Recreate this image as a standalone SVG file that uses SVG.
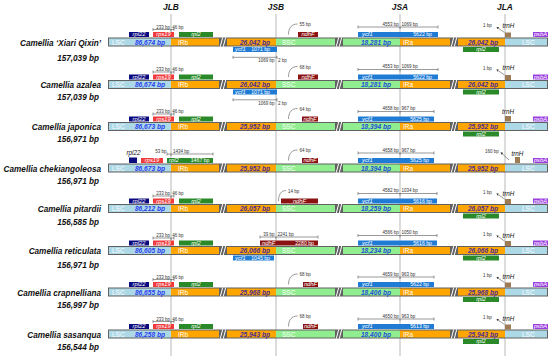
<svg xmlns="http://www.w3.org/2000/svg" xmlns:xlink="http://www.w3.org/1999/xlink" width="550" height="358" viewBox="0 0 550 358">
<style>
text{font-family:"Liberation Sans",Arial,sans-serif}
.hdr{font-weight:bold;font-style:italic;font-size:8.4px;text-anchor:middle;fill:#111}
.nm{font-weight:bold;font-style:italic;font-size:8.2px;text-anchor:end;fill:#111}
.lsc{fill:#add8e6}.ir{fill:#ffa500}.ssc{fill:#90ee90}
.seg{font-size:6.5px;fill:#fff}
.len{font-weight:bold;font-style:italic;font-size:6.6px;text-anchor:end}
.lv{fill:#2a3cf0}.iv{fill:#4b2d96}.sv{fill:#1f4fd8}
.g{font-style:italic;font-size:5.8px;fill:#fff;text-anchor:middle}
.gs{font-style:italic;font-size:5.8px;fill:#fff}
.gn{font-size:5.2px;fill:#fff}
.gk{font-style:italic;font-size:6.3px;fill:#111}
.bp{font-size:4.5px;fill:#333}
.bk{stroke:#555;stroke-width:0.6;fill:none}
.vl{stroke:#b8b8b8;stroke-width:1}
.rpl22{fill:#0b0b80}.rps19{fill:#f03a3c}.rpl2{fill:#2a8a2a}.ycf1{fill:#1f7bd4}.ndhF{fill:#8b1212}.trnH{fill:#9c7b55}.psbA{fill:#9a3ee0}
</style>
<defs>
<marker id="ah" viewBox="0 0 6 6" refX="1" refY="3" markerWidth="4" markerHeight="4" orient="auto-start-reverse"><path d="M0,0 L6,3 L0,6 z" fill="#333"/></marker>
<g id="brk" fill="#fff"><polygon points="0.8,9 3.2,0 4.2,0 1.8,9"/><polygon points="3.8,9 6.2,0 7.2,0 4.8,9"/></g>
<g id="base">
<rect x="108" y="0" width="440" height="9" fill="#616161"/>
<rect class="lsc" x="109" y="1" width="62" height="7"/>
<rect class="ir" x="171" y="1" width="48" height="7"/>
<rect class="ir" x="227" y="1" width="49" height="7"/>
<rect class="ssc" x="276" y="1" width="59" height="7"/>
<rect class="ssc" x="343" y="1" width="57" height="7"/>
<rect class="ir" x="400" y="1" width="50" height="7"/>
<rect class="ir" x="458" y="1" width="47" height="7"/>
<rect class="lsc" x="505" y="1" width="42" height="7"/>
<use href="#brk" x="219"/>
<use href="#brk" x="335"/>
<use href="#brk" x="450"/>
</g>
</defs>
<rect width="550" height="358" fill="#fff"/>

<g id="junctions">
<line class="vl" x1="171" y1="14" x2="171" y2="356"/>
<line class="vl" x1="276" y1="14" x2="276" y2="356"/>
<line class="vl" x1="400" y1="14" x2="400" y2="356"/>
<line class="vl" x1="505" y1="14" x2="505" y2="356"/>
</g>
<g id="headers">
<text class="hdr" x="171" y="9.5">JLB</text>
<text class="hdr" x="276" y="9.5">JSB</text>
<text class="hdr" x="400" y="9.5">JSA</text>
<text class="hdr" x="505" y="9.5">JLA</text>
</g>

<!-- Row 1 -->
<g id="row1" transform="translate(0,37.5)">
<text class="nm" x="101" y="8">Camellia ‘Xiari Qixin’</text>
<text class="nm" x="99" y="23.5">157,039 bp</text>
<use href="#base"/>
<text class="seg" x="112" y="7">LSC</text><text class="len lv" x="165" y="7">86,674 bp</text>
<text class="seg" x="178" y="7">IRb</text><text class="len iv" x="270" y="7">26,042 bp</text>
<text class="seg" x="282" y="7">SSC</text><text class="len sv" x="391" y="7">18,281 bp</text>
<text class="seg" x="403" y="7">IRa</text><text class="len iv" x="498" y="7">26,042 bp</text>
<text class="seg" x="522" y="7">LSC</text>
<rect class="rpl22" x="129" y="-5.5" width="20" height="5"/><text class="g" x="139" y="-1.3">rpl22</text>
<rect class="rps19" x="153" y="-5.5" width="21" height="5"/><text class="g" x="163.5" y="-1.3">rps19</text>
<rect class="rpl2" x="179" y="-5.5" width="34" height="5"/><text class="g" x="196" y="-1.3">rpl2</text>
<path class="bk" d="M153 -8H174M153 -9.5V-6.5M174 -9.5V-6.5M171 -8V-6"/>
<text class="bp" x="170" y="-8.8" text-anchor="end">233 bp</text><text class="bp" x="172.3" y="-8.8">46 bp</text>
<rect class="ycf1" x="233" y="9.5" width="44" height="5"/><text class="gs" x="235" y="13.6">ycf1</text><text class="gn" x="270" y="13.6" text-anchor="end">1071 bp</text>
<path class="bk" d="M233 19.8H277M233 18.3V21.3M277 18.3V21.3"/>
<text class="bp" x="274.5" y="24.5" text-anchor="end">1069 bp</text><text class="bp" x="278" y="24.5">2 bp</text>
<rect class="ndhF" x="298" y="-5.5" width="20" height="5"/><text class="g" x="308" y="-1.3">ndhF</text>
<path class="bk" d="M288.5 -3C288.5 -10 292 -13.5 297.5 -13.5"/><text class="bp" x="299.5" y="-11.5">55 bp</text>
<rect class="ycf1" x="358" y="-5.5" width="80" height="5"/><text class="gs" x="362" y="-1.3">ycf1</text><text class="gn" x="432" y="-1.3" text-anchor="end">5622 bp</text>
<path class="bk" d="M358 -10.5H438M358 -12V-9M438 -12V-9M400 -10.5V-8.5"/>
<text class="bp" x="398.8" y="-11.8" text-anchor="end">4553 bp</text><text class="bp" x="401.5" y="-11.8">1069 bp</text>
<rect class="rpl2" x="463" y="9.5" width="36" height="5"/><text class="g" x="481" y="13.6">rpl2</text>
<text class="bp" x="483" y="-10.5">1 bp</text>
<line class="bk" x1="498" y1="-9.5" x2="504.5" y2="-5" marker-start="url(#ah)"/>
<text class="gk" x="502.5" y="-10">trnH</text>
<rect class="trnH" x="505" y="-5" width="6" height="5"/>
<rect class="psbA" x="533" y="-5.5" width="15" height="5"/><text class="g" x="540.5" y="-1.3">psbA</text>
</g>

<!-- Row 2 -->
<g id="row2" transform="translate(0,80)">
<text class="nm" x="101" y="8">Camellia azalea</text>
<text class="nm" x="99" y="20">157,039 bp</text>
<use href="#base"/>
<text class="seg" x="112" y="7">LSC</text><text class="len lv" x="165" y="7">86,674 bp</text>
<text class="seg" x="178" y="7">IRb</text><text class="len iv" x="270" y="7">26,042 bp</text>
<text class="seg" x="282" y="7">SSC</text><text class="len sv" x="391" y="7">18,281 bp</text>
<text class="seg" x="403" y="7">IRa</text><text class="len iv" x="498" y="7">26,042 bp</text>
<text class="seg" x="522" y="7">LSC</text>
<rect class="rpl22" x="129" y="-5.5" width="20" height="5"/><text class="g" x="139" y="-1.3">rpl22</text>
<rect class="rps19" x="153" y="-5.5" width="21" height="5"/><text class="g" x="163.5" y="-1.3">rps19</text>
<rect class="rpl2" x="179" y="-5.5" width="34" height="5"/><text class="g" x="196" y="-1.3">rpl2</text>
<path class="bk" d="M153 -8H174M153 -9.5V-6.5M174 -9.5V-6.5M171 -8V-6"/>
<text class="bp" x="170" y="-8.8" text-anchor="end">233 bp</text><text class="bp" x="172.3" y="-8.8">46 bp</text>
<rect class="ycf1" x="233" y="9.5" width="44" height="5"/><text class="gs" x="235" y="13.6">ycf1</text><text class="gn" x="270" y="13.6" text-anchor="end">1071 bp</text>
<path class="bk" d="M233 19.8H277M233 18.3V21.3M277 18.3V21.3"/>
<text class="bp" x="274.5" y="24.5" text-anchor="end">1069 bp</text><text class="bp" x="278" y="24.5">2 bp</text>
<rect class="ndhF" x="298" y="-5.5" width="20" height="5"/><text class="g" x="308" y="-1.3">ndhF</text>
<path class="bk" d="M288.5 -3C288.5 -10 292 -13.5 297.5 -13.5"/><text class="bp" x="299.5" y="-11.5">68 bp</text>
<rect class="ycf1" x="358" y="-5.5" width="80" height="5"/><text class="gs" x="362" y="-1.3">ycf1</text><text class="gn" x="432" y="-1.3" text-anchor="end">5622 bp</text>
<path class="bk" d="M358 -10.5H438M358 -12V-9M438 -12V-9M400 -10.5V-8.5"/>
<text class="bp" x="398.8" y="-11.8" text-anchor="end">4553 bp</text><text class="bp" x="401.5" y="-11.8">1069 bp</text>
<rect class="rpl2" x="463" y="9.5" width="36" height="5"/><text class="g" x="481" y="13.6">rpl2</text>
<text class="bp" x="483" y="-10.5">1 bp</text>
<line class="bk" x1="498" y1="-9.5" x2="504.5" y2="-5" marker-start="url(#ah)"/>
<text class="gk" x="502.5" y="-10">trnH</text>
<rect class="trnH" x="505" y="-5" width="6" height="5"/>
<rect class="psbA" x="533" y="-5.5" width="15" height="5"/><text class="g" x="540.5" y="-1.3">psbA</text>
</g>

<!-- Row 3 -->
<g id="row3" transform="translate(0,122)">
<text class="nm" x="101" y="8">Camellia japonica</text>
<text class="nm" x="99" y="20">156,971 bp</text>
<use href="#base"/>
<text class="seg" x="112" y="7">LSC</text><text class="len lv" x="165" y="7">86,673 bp</text>
<text class="seg" x="178" y="7">IRb</text><text class="len iv" x="270" y="7">25,952 bp</text>
<text class="seg" x="282" y="7">SSC</text><text class="len sv" x="391" y="7">18,394 bp</text>
<text class="seg" x="403" y="7">IRa</text><text class="len iv" x="498" y="7">25,952 bp</text>
<text class="seg" x="522" y="7">LSC</text>
<rect class="rpl22" x="129" y="-5.5" width="20" height="5"/><text class="g" x="139" y="-1.3">rpl22</text>
<rect class="rps19" x="153" y="-5.5" width="21" height="5"/><text class="g" x="163.5" y="-1.3">rps19</text>
<rect class="rpl2" x="179" y="-5.5" width="34" height="5"/><text class="g" x="196" y="-1.3">rpl2</text>
<path class="bk" d="M153 -8H174M153 -9.5V-6.5M174 -9.5V-6.5M171 -8V-6"/>
<text class="bp" x="170" y="-8.8" text-anchor="end">233 bp</text><text class="bp" x="172.3" y="-8.8">46 bp</text>
<rect class="ndhF" x="302" y="-5.5" width="16" height="5"/><text class="g" x="310" y="-1.3">ndhF</text>
<path class="bk" d="M288.5 -3C288.5 -10 292 -13.5 297.5 -13.5"/><text class="bp" x="299.5" y="-11.5">64 bp</text>
<rect class="ycf1" x="358" y="-5.5" width="76" height="5"/><text class="gs" x="362" y="-1.3">ycf1</text><text class="gn" x="429" y="-1.3" text-anchor="end">5625 bp</text>
<path class="bk" d="M358 -10.5H434M358 -12V-9M434 -12V-9M400 -10.5V-8.5"/>
<text class="bp" x="398.8" y="-11.8" text-anchor="end">4658 bp</text><text class="bp" x="401.5" y="-11.8">967 bp</text>
<rect class="rpl2" x="463" y="9.5" width="36" height="5"/><text class="g" x="481" y="13.6">rpl2</text>
<text class="gk" x="508" y="-8" text-anchor="middle">trnH</text>
<rect class="trnH" x="505" y="-6" width="6" height="5.5"/>
<rect class="psbA" x="533" y="-5.5" width="15" height="5"/><text class="g" x="540.5" y="-1.3">psbA</text>
</g>

<!-- Row 4 -->
<g id="row4" transform="translate(0,163.5)">
<text class="nm" x="101" y="8">Camellia chekiangoleosa</text>
<text class="nm" x="99" y="20">156,971 bp</text>
<use href="#base"/>
<text class="seg" x="112" y="7">LSC</text><text class="len lv" x="165" y="7">86,673 bp</text>
<text class="seg" x="178" y="7">IRb</text><text class="len iv" x="270" y="7">25,952 bp</text>
<text class="seg" x="282" y="7">SSC</text><text class="len sv" x="391" y="7">18,394 bp</text>
<text class="seg" x="403" y="7">IRa</text><text class="len iv" x="498" y="7">25,952 bp</text>
<text class="seg" x="522" y="7">LSC</text>
<text class="gk" x="133.5" y="-8.3" text-anchor="middle">rpl22</text>
<rect class="rpl22" x="129" y="-6" width="8" height="5.5"/>
<rect class="rps19" x="141" y="-5.5" width="22" height="5"/><text class="g" x="152" y="-1.3">rps19</text>
<rect class="rpl2" x="167" y="-5.5" width="46" height="5"/><text class="gs" x="169" y="-1.3">rpl2</text><text class="gn" x="209.5" y="-1.3" text-anchor="end">1467 bp</text>
<path class="bk" d="M167 -9.5H213M167 -11V-8M213 -11V-8M171 -9.5V-7.5"/>
<text class="bp" x="166.5" y="-10.3" text-anchor="end">53 bp</text><text class="bp" x="173" y="-10.3">1434 bp</text>
<rect class="ndhF" x="302" y="-5.5" width="16" height="5"/><text class="g" x="310" y="-1.3">ndhF</text>
<path class="bk" d="M288.5 -3C288.5 -10 292 -13.5 297.5 -13.5"/><text class="bp" x="299.5" y="-11.5">64 bp</text>
<rect class="ycf1" x="358" y="-5.5" width="76" height="5"/><text class="gs" x="362" y="-1.3">ycf1</text><text class="gn" x="429" y="-1.3" text-anchor="end">5625 bp</text>
<path class="bk" d="M358 -10.5H434M358 -12V-9M434 -12V-9M400 -10.5V-8.5"/>
<text class="bp" x="398.8" y="-11.8" text-anchor="end">4658 bp</text><text class="bp" x="401.5" y="-11.8">967 bp</text>
<text class="bp" x="485" y="-11">160 bp</text>
<line class="bk" x1="502" y1="-10" x2="509" y2="-3.5" marker-start="url(#ah)"/>
<text class="gk" x="511.5" y="-7.8">trnH</text>
<rect class="trnH" x="515" y="-6.5" width="5" height="6"/>
<rect class="psbA" x="533" y="-5.5" width="15" height="5"/><text class="g" x="540.5" y="-1.3">psbA</text>
</g>

<!-- Row 5 -->
<g id="row5" transform="translate(0,204)">
<text class="nm" x="101" y="8">Camellia pitardii</text>
<text class="nm" x="99" y="21">156,585 bp</text>
<use href="#base"/>
<text class="seg" x="112" y="7">LSC</text><text class="len lv" x="165" y="7">86,212 bp</text>
<text class="seg" x="178" y="7">IRb</text><text class="len iv" x="270" y="7">26,057 bp</text>
<text class="seg" x="282" y="7">SSC</text><text class="len sv" x="391" y="7">18,259 bp</text>
<text class="seg" x="403" y="7">IRa</text><text class="len iv" x="498" y="7">26,057 bp</text>
<text class="seg" x="522" y="7">LSC</text>
<rect class="rpl22" x="129" y="-5.5" width="20" height="5"/><text class="g" x="139" y="-1.3">rpl22</text>
<rect class="rps19" x="153" y="-5.5" width="21" height="5"/><text class="g" x="163.5" y="-1.3">rps19</text>
<rect class="rpl2" x="179" y="-5.5" width="34" height="5"/><text class="g" x="196" y="-1.3">rpl2</text>
<path class="bk" d="M153 -8H174M153 -9.5V-6.5M174 -9.5V-6.5M171 -8V-6"/>
<text class="bp" x="170" y="-8.8" text-anchor="end">233 bp</text><text class="bp" x="172.3" y="-8.8">46 bp</text>
<rect class="ndhF" x="281" y="-5.5" width="37" height="5"/><text class="g" x="299.5" y="-1.3">ndhF</text>
<path class="bk" d="M278.5 -3C278.5 -10 281.5 -13.5 286 -13.5"/><text class="bp" x="288" y="-11.5">14 bp</text>
<rect class="ycf1" x="358" y="-5.5" width="79" height="5"/><text class="gs" x="362" y="-1.3">ycf1</text><text class="gn" x="432" y="-1.3" text-anchor="end">5616 bp</text>
<path class="bk" d="M358 -10.5H437M358 -12V-9M437 -12V-9M400 -10.5V-8.5"/>
<text class="bp" x="398.8" y="-11.8" text-anchor="end">4582 bp</text><text class="bp" x="401.5" y="-11.8">1034 bp</text>
<rect class="rpl2" x="463" y="9.5" width="36" height="5"/><text class="g" x="481" y="13.6">rpl2</text>
<text class="bp" x="483" y="-10.5">1 bp</text>
<line class="bk" x1="498" y1="-9.5" x2="504.5" y2="-5" marker-start="url(#ah)"/>
<text class="gk" x="502.5" y="-8.5">trnH</text>
<rect class="trnH" x="505" y="-5" width="6" height="5"/>
<rect class="psbA" x="533" y="-5.5" width="15" height="5"/><text class="g" x="540.5" y="-1.3">psbA</text>
</g>

<!-- Row 6 -->
<g id="row6" transform="translate(0,246)">
<text class="nm" x="101" y="8">Camellia reticulata</text>
<text class="nm" x="99" y="21.5">156,971 bp</text>
<use href="#base"/>
<text class="seg" x="112" y="7">LSC</text><text class="len lv" x="165" y="7">86,605 bp</text>
<text class="seg" x="178" y="7">IRb</text><text class="len iv" x="270" y="7">26,066 bp</text>
<text class="seg" x="282" y="7">SSC</text><text class="len sv" x="391" y="7">18,234 bp</text>
<text class="seg" x="403" y="7">IRa</text><text class="len iv" x="498" y="7">26,066 bp</text>
<text class="seg" x="522" y="7">LSC</text>
<rect class="rpl22" x="129" y="-5.5" width="20" height="5"/><text class="g" x="139" y="-1.3">rpl22</text>
<rect class="rps19" x="153" y="-5.5" width="21" height="5"/><text class="g" x="163.5" y="-1.3">rps19</text>
<rect class="rpl2" x="179" y="-5.5" width="34" height="5"/><text class="g" x="196" y="-1.3">rpl2</text>
<path class="bk" d="M153 -8H174M153 -9.5V-6.5M174 -9.5V-6.5M171 -8V-6"/>
<text class="bp" x="170" y="-8.8" text-anchor="end">233 bp</text><text class="bp" x="172.3" y="-8.8">46 bp</text>
<rect class="ycf1" x="233" y="9.5" width="41" height="5"/><text class="gs" x="235" y="13.6">ycf1</text><text class="gn" x="270" y="13.6" text-anchor="end">1045 bp</text>
<rect class="ndhF" x="260" y="-5.5" width="58" height="5"/><text class="gs" x="262" y="-1.3">ndhF</text><text class="gn" x="314" y="-1.3" text-anchor="end">2280 bp</text>
<path class="bk" d="M260 -9H318M260 -10.5V-7.5M318 -10.5V-7.5M276 -9V-7"/>
<text class="bp" x="274.5" y="-9.8" text-anchor="end">39 bp</text><text class="bp" x="277.5" y="-9.8">2241 bp</text>
<rect class="ycf1" x="358" y="-5.5" width="79" height="5"/><text class="gs" x="362" y="-1.3">ycf1</text><text class="gn" x="432" y="-1.3" text-anchor="end">5616 bp</text>
<path class="bk" d="M358 -10.5H437M358 -12V-9M437 -12V-9M400 -10.5V-8.5"/>
<text class="bp" x="398.8" y="-11.8" text-anchor="end">4566 bp</text><text class="bp" x="401.5" y="-11.8">1050 bp</text>
<rect class="rpl2" x="463" y="9.5" width="36" height="5"/><text class="g" x="481" y="13.6">rpl2</text>
<text class="bp" x="483" y="-10.5">1 bp</text>
<line class="bk" x1="498" y1="-9.5" x2="504.5" y2="-5" marker-start="url(#ah)"/>
<text class="gk" x="502.5" y="-8.5">trnH</text>
<rect class="trnH" x="505" y="-5" width="6" height="5"/>
<rect class="psbA" x="533" y="-5.5" width="15" height="5"/><text class="g" x="540.5" y="-1.3">psbA</text>
</g>

<!-- Row 7 -->
<g id="row7" transform="translate(0,287.5)">
<text class="nm" x="101" y="8">Camellia crapnelliana</text>
<text class="nm" x="99" y="20">156,997 bp</text>
<use href="#base"/>
<text class="seg" x="112" y="7">LSC</text><text class="len lv" x="165" y="7">86,655 bp</text>
<text class="seg" x="178" y="7">IRb</text><text class="len iv" x="270" y="7">25,968 bp</text>
<text class="seg" x="282" y="7">SSC</text><text class="len sv" x="391" y="7">18,406 bp</text>
<text class="seg" x="403" y="7">IRa</text><text class="len iv" x="498" y="7">25,968 bp</text>
<text class="seg" x="522" y="7">LSC</text>
<rect class="rpl22" x="129" y="-5.5" width="20" height="5"/><text class="g" x="139" y="-1.3">rpl22</text>
<rect class="rps19" x="153" y="-5.5" width="21" height="5"/><text class="g" x="163.5" y="-1.3">rps19</text>
<rect class="rpl2" x="179" y="-5.5" width="34" height="5"/><text class="g" x="196" y="-1.3">rpl2</text>
<path class="bk" d="M153 -8H174M153 -9.5V-6.5M174 -9.5V-6.5M171 -8V-6"/>
<text class="bp" x="170" y="-8.8" text-anchor="end">233 bp</text><text class="bp" x="172.3" y="-8.8">46 bp</text>
<rect class="ndhF" x="303" y="-5.5" width="15" height="5"/><text class="g" x="310.5" y="-1.3">ndhF</text>
<path class="bk" d="M288.5 -3C288.5 -10 292 -13.5 297.5 -13.5"/><text class="bp" x="299.5" y="-11.5">68 bp</text>
<rect class="ycf1" x="358" y="-5.5" width="76" height="5"/><text class="gs" x="362" y="-1.3">ycf1</text><text class="gn" x="429" y="-1.3" text-anchor="end">5622 bp</text>
<path class="bk" d="M358 -10.5H434M358 -12V-9M434 -12V-9M400 -10.5V-8.5"/>
<text class="bp" x="398.8" y="-11.8" text-anchor="end">4659 bp</text><text class="bp" x="401.5" y="-11.8">963 bp</text>
<rect class="rpl2" x="463" y="9.5" width="36" height="5"/><text class="g" x="481" y="13.6">rpl2</text>
<text class="bp" x="483" y="-10.5">1 bp</text>
<line class="bk" x1="498" y1="-9.5" x2="504.5" y2="-5" marker-start="url(#ah)"/>
<text class="gk" x="502.5" y="-8.5">trnH</text>
<rect class="trnH" x="505" y="-5" width="6" height="5"/>
<rect class="psbA" x="533" y="-5.5" width="15" height="5"/><text class="g" x="540.5" y="-1.3">psbA</text>
</g>

<!-- Row 8 -->
<g id="row8" transform="translate(0,329.5)">
<text class="nm" x="101" y="8">Camellia sasanqua</text>
<text class="nm" x="99" y="20">156,544 bp</text>
<use href="#base"/>
<text class="seg" x="112" y="7">LSC</text><text class="len lv" x="165" y="7">86,258 bp</text>
<text class="seg" x="178" y="7">IRb</text><text class="len iv" x="270" y="7">25,943 bp</text>
<text class="seg" x="282" y="7">SSC</text><text class="len sv" x="391" y="7">18,400 bp</text>
<text class="seg" x="403" y="7">IRa</text><text class="len iv" x="498" y="7">25,943 bp</text>
<text class="seg" x="522" y="7">LSC</text>
<rect class="rpl22" x="129" y="-5.5" width="20" height="5"/><text class="g" x="139" y="-1.3">rpl22</text>
<rect class="rps19" x="153" y="-5.5" width="21" height="5"/><text class="g" x="163.5" y="-1.3">rps19</text>
<rect class="rpl2" x="179" y="-5.5" width="34" height="5"/><text class="g" x="196" y="-1.3">rpl2</text>
<path class="bk" d="M153 -8H174M153 -9.5V-6.5M174 -9.5V-6.5M171 -8V-6"/>
<text class="bp" x="170" y="-8.8" text-anchor="end">233 bp</text><text class="bp" x="172.3" y="-8.8">46 bp</text>
<rect class="ndhF" x="303" y="-5.5" width="15" height="5"/><text class="g" x="310.5" y="-1.3">ndhF</text>
<path class="bk" d="M288.5 -3C288.5 -10 292 -13.5 297.5 -13.5"/><text class="bp" x="299.5" y="-11.5">68 bp</text>
<rect class="ycf1" x="358" y="-5.5" width="76" height="5"/><text class="gs" x="362" y="-1.3">ycf1</text><text class="gn" x="429" y="-1.3" text-anchor="end">5613 bp</text>
<path class="bk" d="M358 -10.5H434M358 -12V-9M434 -12V-9M400 -10.5V-8.5"/>
<text class="bp" x="398.8" y="-11.8" text-anchor="end">4650 bp</text><text class="bp" x="401.5" y="-11.8">963 bp</text>
<rect class="rpl2" x="463" y="9.5" width="36" height="5"/><text class="g" x="481" y="13.6">rpl2</text>
<text class="bp" x="483" y="-10.5">1 bp</text>
<line class="bk" x1="498" y1="-9.5" x2="504.5" y2="-5" marker-start="url(#ah)"/>
<text class="gk" x="502.5" y="-8.5">trnH</text>
<rect class="trnH" x="505" y="-5" width="6" height="5"/>
<rect class="psbA" x="533" y="-5.5" width="15" height="5"/><text class="g" x="540.5" y="-1.3">psbA</text>
</g>
</svg>
